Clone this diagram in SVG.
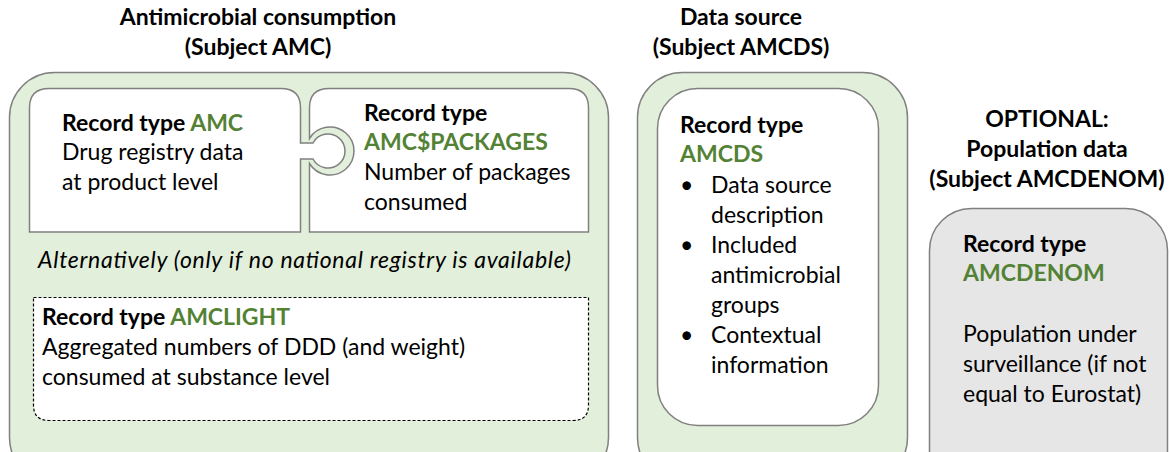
<svg xmlns="http://www.w3.org/2000/svg" width="1170" height="452" viewBox="0 0 1170 452">
<style>
text{font-family:Lato,"Liberation Sans",sans-serif;font-size:23px;fill:#000}
.b{font-weight:bold}
.g{fill:#548235;font-weight:bold}
.c{text-anchor:middle}
.i{font-style:italic}
.grp{fill:#e2efda;stroke:#808080;stroke-width:1.5}
.rec{fill:#fff;stroke:#808080;stroke-width:1.5}
.opt{fill:#e7e6e6;stroke:#808080;stroke-width:1.5}
.dash{fill:#fff;stroke:#000;stroke-width:1.2;stroke-dasharray:3 2}
</style>
<rect width="1170" height="452" fill="#fff"/>
<g id="amc-group">
<text class="b c" x="258" y="25">Antimicrobial consumption</text>
<text class="b c" x="258" y="55">(Subject AMC)</text>
<rect class="grp" x="9.5" y="72.5" width="599" height="410" rx="45"/>
<text class="i" x="38" y="268" textLength="533" lengthAdjust="spacing">Alternatively (only if no national registry is available)</text>
</g>
<g id="rec-amcpackages">
<path class="rec" d="M309.5,232 V163.5 A24 24 0 1 0 309.5,138.5 V108 Q309.5,88.5 329,88.5 H569 Q588.5,88.5 588.5,108 V232 Z"/>
<text class="b" x="364" y="121">Record type</text>
<text class="g" x="364" y="150">AMC$PACKAGES</text>
<text x="364" y="180">Number of packages</text>
<text x="364" y="210">consumed</text>
</g>
<g id="rec-amc">
<path class="rec" d="M29.5,232 V108 Q29.5,88.5 49,88.5 H281 Q300.5,88.5 300.5,108 V143 L313,143 A17 17 0 1 1 313,159 L300.5,159 V232 Z"/>
<text x="62" y="131"><tspan class="b">Record type </tspan><tspan class="g">AMC</tspan></text>
<text x="62" y="160">Drug registry data</text>
<text x="62" y="190">at product level</text>
</g>
<g id="rec-amclight">
<path class="dash" d="M33.5,297.5 H588.5 V405 Q588.5,420.5 573,420.5 H49 Q33.5,420.5 33.5,405 Z"/>
<text x="42" y="325"><tspan class="b">Record type </tspan><tspan class="g">AMCLIGHT</tspan></text>
<text x="42" y="355">Aggregated numbers of DDD (and weight)</text>
<text x="42" y="385">consumed at substance level</text>
</g>
<g id="amcds-group">
<text class="b c" x="741" y="25">Data source</text>
<text class="b c" x="741" y="55">(Subject AMCDS)</text>
<rect class="grp" x="637.5" y="72.5" width="270" height="410" rx="45"/>
</g>
<g id="rec-amcds">
<rect class="rec" x="657.5" y="88.5" width="221" height="337" rx="40"/>
<text class="b" x="680" y="133">Record type</text>
<text class="g" x="680" y="162">AMCDS</text>
<text x="680" y="193">•</text><text x="711" y="193">Data source</text>
<text x="711" y="223">description</text>
<text x="680" y="253">•</text><text x="711" y="253">Included</text>
<text x="711" y="283">antimicrobial</text>
<text x="711" y="313">groups</text>
<text x="680" y="343">•</text><text x="711" y="343">Contextual</text>
<text x="711" y="373">information</text>
</g>
<g id="amcdenom">
<text class="b c" x="1047" y="127">OPTIONAL:</text>
<text class="b c" x="1047" y="157">Population data</text>
<text class="b c" x="1047" y="187">(Subject AMCDENOM)</text>
<rect class="opt" x="929.5" y="208.5" width="238" height="290" rx="42"/>
<text class="b" x="963" y="252">Record type</text>
<text class="g" x="963" y="281">AMCDENOM</text>
<text x="963" y="342">Population under</text>
<text x="963" y="372">surveillance (if not</text>
<text x="963" y="402">equal to Eurostat)</text>
</g>
<g id="connectors"/>
</svg>
